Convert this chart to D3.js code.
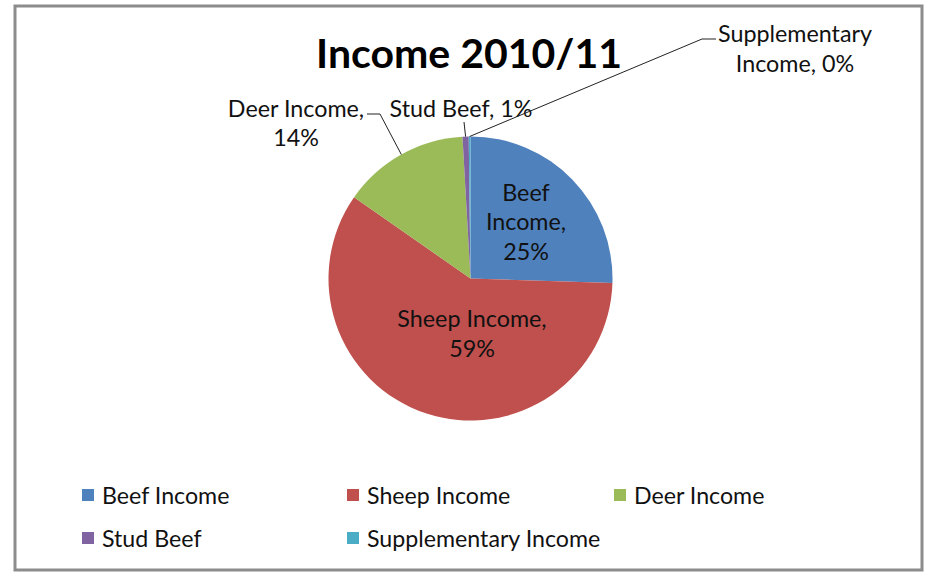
<!DOCTYPE html>
<html>
<head>
<meta charset="utf-8">
<script src="https://cdn.jsdelivr.net/npm/d3@7"></script>
<style>
  html, body { margin: 0; padding: 0; background: #fff; }
  svg { display: block; }
  text { font-family: Lato, "Open Sans", sans-serif; fill: #111; }
</style>
</head>
<body>
<svg id="chart" width="927" height="574"></svg>
<script>
// ---- data ----
const title = "Income 2010/11";
const categories = ["Beef Income", "Sheep Income", "Deer Income", "Stud Beef", "Supplementary Income"];
const values = [25.5, 59.2, 14.4, 0.7, 0.2];
const colors = ["#4F81BD", "#C0504D", "#9BBB59", "#8064A2", "#4BACC6"];

// ---- layout ----
const W = 927, H = 574;
const cx = 470.5, cy = 278.5, R = 142;
const svg = d3.select("#chart");

// frame
svg.append("rect").attr("x", 15).attr("y", 6).attr("width", 907).attr("height", 564)
  .attr("fill", "#fff").attr("stroke", "#8c8c8c").attr("stroke-width", 3);

// title
svg.append("text").attr("x", 469).attr("y", 68).attr("text-anchor", "middle")
  .style("font-size", "41px").style("font-weight", "bold").style("fill", "#000")
  .text(title);

const data = categories.map((c, i) => ({ name: c, value: values[i], color: colors[i] }));
const total = d3.sum(values);
const pie = d3.pie().value(d => d.value).sort(null);
const arcs = pie(data);
const arc = d3.arc().innerRadius(0).outerRadius(R);

const g = svg.append("g").attr("transform", `translate(${cx},${cy})`);
g.selectAll("path").data(arcs).enter().append("path")
  .attr("d", arc).attr("fill", d => d.data.color);

const pct = d => Math.round(d.data.value / total * 100) + "%";
const mid = d => (d.startAngle + d.endAngle) / 2;
const edge = (d, r) => [r * Math.sin(mid(d)), -r * Math.cos(mid(d))];

// label placement (absolute page coords), per category index
const labelLayout = [
  { lines: d => ["Beef", "Income,", pct(d)], x: 526, y: [192, 221, 251] },
  { lines: d => ["Sheep Income,", pct(d)], x: 472, y: [318, 348] },
  { lines: d => ["Deer Income,", pct(d)], x: 296, y: [108, 137], leader: [[367, 114], [380, 114]] },
  { lines: d => ["Stud Beef, " + pct(d)], x: 461, y: [108], leader: [[464, 122]] },
  { lines: d => ["Supplementary", "Income, " + pct(d)], x: 795, y: [33, 63], leader: [[716, 39], [702, 39]] }
];

const labelFont = "23.3px";
const legendFont = "23.2px";
arcs.forEach((d, i) => {
  const L = labelLayout[i];
  if (L.leader) {
    const p = edge(d, R);
    const pts = L.leader.concat([[cx + p[0], cy + p[1]]]);
    svg.append("path").attr("d", d3.line()(pts))
      .attr("fill", "none").attr("stroke", "#222").attr("stroke-width", 1);
  }
  const ls = L.lines(d);
  ls.forEach((t, k) => {
    svg.append("text").attr("x", L.x).attr("y", L.y[k])
      .attr("text-anchor", "middle").attr("dominant-baseline", "central")
      .style("font-size", labelFont).text(t);
  });
});

// legend
const legendPos = [[82, 495], [347, 495], [614, 495], [82, 538], [347, 538]];
const lg = svg.append("g");
data.forEach((d, i) => {
  const [x, y] = legendPos[i];
  lg.append("rect").attr("x", x).attr("y", y - 6).attr("width", 12).attr("height", 12).attr("fill", d.color);
  lg.append("text").attr("x", x + 20).attr("y", y).attr("dominant-baseline", "central")
    .style("font-size", legendFont).text(d.name);
});
</script>
</body>
</html>
